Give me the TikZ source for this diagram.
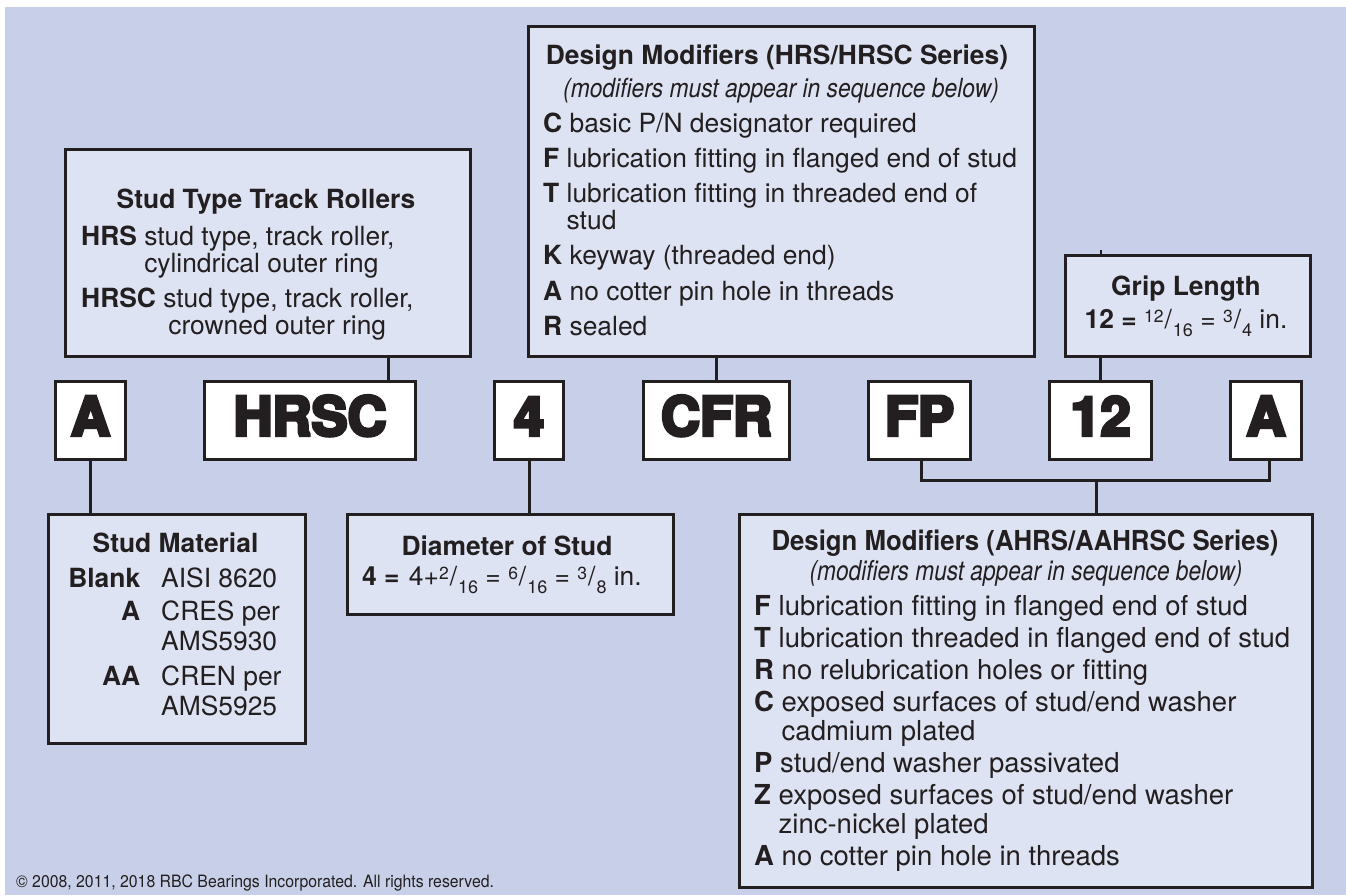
\documentclass[tikz,border=0pt]{standalone}
\usepackage{fontspec}
\usepackage{graphicx}
\setmainfont{TeX Gyre Heros}
\newfontfamily\codefont[BoldFeatures={FakeBold=6}]{TeX Gyre Heros}
\usetikzlibrary{calc}
\definecolor{bgc}{RGB}{200,207,232}
\definecolor{boxc}{RGB}{222,227,243}
\definecolor{inkc}{RGB}{35,31,32}
\newcommand\bodyfont{\fontsize{26.4pt}{27pt}\selectfont}
\newcommand\bigbody{\fontsize{27.5pt}{29pt}\selectfont}
\newcommand\frc[2]{{\fontsize{17.5pt}{17.5pt}\selectfont\raisebox{6pt}{#1}}\kern1pt/\kern1pt{\fontsize{18pt}{18pt}\selectfont\raisebox{-8pt}{#2}}}
\newcommand\vlines[2]{\vtop{\baselineskip=#1\lineskiplimit=-1000pt\lineskip=0pt\relax #2}}
\newcommand\smrow[2]{\hbox to 71pt{\hss\textbf{#1}}\hskip21pt #2}
\begin{document}
\begin{tikzpicture}[x=1pt,y=-1pt,
  infobox/.style={draw=inkc,fill=boxc,line width=3pt,inner sep=0pt,anchor=north west},
  codebox/.style={draw=inkc,fill=white,line width=3pt,inner sep=0pt,anchor=north west,
    font=\codefont\bfseries\fontsize{54pt}{54pt}\selectfont,text=inkc,text height=39pt,text depth=9pt},
  conn/.style={draw=inkc,line width=3pt},
  txt/.style={inner sep=0pt,text=inkc,font=\bodyfont}]
\useasboundingbox (0,0) rectangle (1346,895);
\fill[white] (0,0) rectangle (1346,895);
\fill[bgc] (5,7) rectangle (1346,895);

% info boxes
\node[infobox,minimum width=405pt,minimum height=207pt] (st) at (64,148) {};
\node[infobox,minimum width=506pt,minimum height=330pt] (dm) at (527,25) {};
\node[infobox,minimum width=245pt,minimum height=101pt] (grip) at (1064,254) {};
\node[infobox,minimum width=257pt,minimum height=229pt] (sm) at (47,513) {};
\node[infobox,minimum width=326pt,minimum height=100pt] (dia) at (346,513) {};
\node[infobox,minimum width=573pt,minimum height=373pt] (bm) at (738,513) {};

% code boxes
\node[codebox,minimum width=70pt,minimum height=78pt] (a1) at (54,380) {A};
\node[codebox,minimum width=211pt,minimum height=78pt] (hrsc) at (203,380) {HRSC};
\node[codebox,minimum width=69pt,minimum height=78pt] (d4) at (493,380) {4};
\node[codebox,minimum width=146pt,minimum height=78pt] (cfr) at (642,380) {CFR};
\node[codebox,minimum width=102pt,minimum height=78pt] (fp) at (867,380) {FP};
\node[codebox,minimum width=102pt,minimum height=78pt] (g12) at (1048,380) {12};
\node[codebox,minimum width=71pt,minimum height=78pt] (a2) at (1229,380) {A};

% connectors
\coordinate (hx) at (388,0);
\coordinate (bry) at (0,480);
\coordinate (fpx) at (921,0);
\coordinate (a2x) at (1269,0);
\coordinate (vx) at (1096,0);
\draw[conn] (a1.south) -- (a1.south |- sm.north);
\draw[conn] (hx |- hrsc.north) -- (hx |- st.south);
\draw[conn] (d4.south) -- (d4.south |- dia.north);
\draw[conn] (cfr.north) -- (cfr.north |- dm.south);
\draw[conn] (g12.north) -- (g12.north |- grip.south);
\draw[draw=inkc,line width=2pt] (g12.north |- grip.north) -- ++(0,-4);
\draw[conn] (fpx |- fp.south) -- (fpx |- bry) -- (a2x |- bry) -- (a2x |- a2.south);
\draw[conn] (vx |- bry) -- (vx |- bm.north);

% Stud Type Track Rollers
\node[txt,font=\bodyfont\bfseries,anchor=base] (stt) at (266,208) {Stud Type Track Rollers};
\node[txt,anchor=base west] (sti) at (81,245) {\vlines{27pt}{%
  \hbox{\textbf{HRS} stud type, track roller,}%
  \hbox{\hphantom{\textbf{HRS} }cylindrical outer ring}%
  \vskip8pt
  \hbox{\textbf{HRSC} stud type, track roller,}%
  \hbox{\hphantom{\textbf{HRSC} }\hspace{5pt}crowned outer ring}}};

% Design Modifiers (HRS/HRSC)
\node[txt,font=\bodyfont\bfseries,anchor=base] (dmt) at (777,64) {Design Modifiers (HRS/HRSC Series)};
\node[txt,anchor=base] (dmi) at (781,97) {\scalebox{0.865}[1]{\itshape (modifiers must appear in sequence below)}};
\node[txt,anchor=base west] (dml) at (543,132) {\vlines{27pt}{%
  \hbox{\textbf{C} basic P/N designator required}%
  \vskip8.3pt
  \hbox{\textbf{F} lubrication fitting in flanged end of stud}%
  \vskip8.3pt
  \hbox{\textbf{T} lubrication fitting in threaded end of}%
  \hbox{\hphantom{\textbf{T} }stud}%
  \vskip8.3pt
  \hbox{\textbf{K} keyway (threaded end)}%
  \vskip8.3pt
  \hbox{\textbf{A} no cotter pin hole in threads}%
  \vskip8.3pt
  \hbox{\textbf{R} sealed}}};

% Grip Length
\node[txt,font=\bodyfont\bfseries,anchor=base] (gt) at (1186,295) {Grip Length};
\node[txt,anchor=base] (gl) at (1186,328) {\textbf{12 =} \frc{12}{16} = \frc{3}{4} in.};

% Stud Material
\node[txt,font=\bodyfont\bfseries,anchor=base] (smt) at (175.5,552) {Stud Material};
\node[txt,anchor=base west] (sml) at (69,587) {\vlines{30pt}{%
  \hbox{\smrow{Blank}{AISI 8620}}%
  \vskip3pt
  \hbox{\smrow{A}{CRES per}}%
  \hbox{\smrow{}{AMS5930}}%
  \vskip5pt
  \hbox{\smrow{AA}{CREN per}}%
  \hbox{\smrow{}{AMS5925}}}};

% Diameter of Stud
\node[txt,font=\bodyfont\bfseries,anchor=base] (dt) at (507,555) {Diameter of Stud};
\node[txt,anchor=base west] (dl) at (362,585) {\textbf{4 =} \kern2pt 4+\frc{2}{16} = \frc{6}{16} = \frc{3}{8} in.};

% Design Modifiers (AHRS/AAHRSC)
\node[txt,font=\bigbody\bfseries,anchor=base] (bmt) at (1025,550) {\scalebox{0.937}[1]{Design Modifiers (AHRS/AAHRSC Series)}};
\node[txt,font=\bigbody,anchor=base] (bmi) at (1026,580) {\scalebox{0.825}[1]{\itshape (modifiers must appear in sequence below)}};
\node[txt,font=\bigbody,anchor=base west] (bml) at (754,615) {\vlines{29pt}{%
  \hbox{\textbf{F} lubrication fitting in flanged end of stud}%
  \vskip3pt
  \hbox{\textbf{T} lubrication threaded in flanged end of stud}%
  \vskip3pt
  \hbox{\textbf{R} no relubrication holes or fitting}%
  \vskip3pt
  \hbox{\textbf{C} exposed surfaces of stud/end washer}%
  \hbox{\hphantom{\textbf{C} }cadmium plated}%
  \vskip3pt
  \hbox{\textbf{P} stud/end washer passivated}%
  \vskip3pt
  \hbox{\textbf{Z} exposed surfaces of stud/end washer}%
  \hbox{\hphantom{\textbf{Z} }zinc-nickel plated}%
  \vskip3pt
  \hbox{\textbf{A} no cotter pin hole in threads}}};

% copyright
\node[txt,font=\fontsize{17pt}{17pt}\selectfont,anchor=base west] (copy) at (16,887) {\scalebox{0.93}[1]{© 2008, 2011, 2018 RBC Bearings Incorporated. All rights reserved.}};
\end{tikzpicture}
\end{document}
